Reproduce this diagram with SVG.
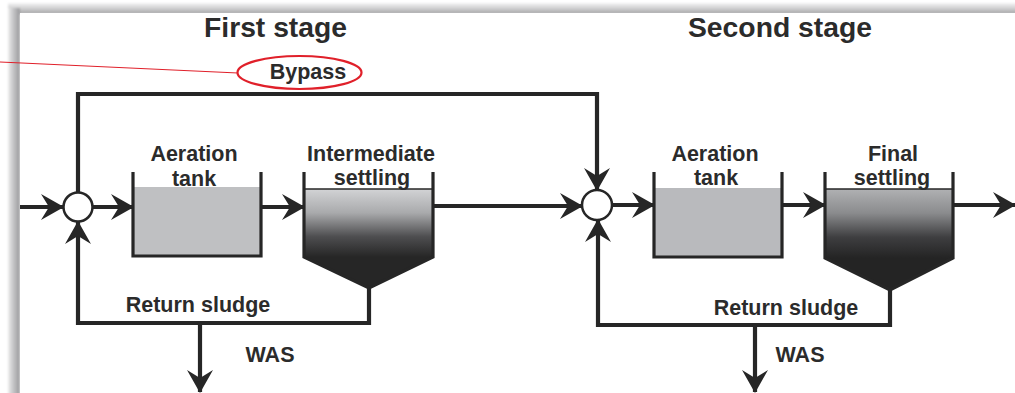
<svg xmlns="http://www.w3.org/2000/svg" width="1015" height="393" viewBox="0 0 1015 393">
  <style>
    .title { font-family: "Liberation Sans", Arial, sans-serif; font-weight: bold; font-size: 27px; fill: #2b2b2b; text-anchor: middle; }
    .label { font-family: "Liberation Sans", Arial, sans-serif; font-weight: bold; font-size: 21.5px; fill: #2b2b2b; text-anchor: middle; }
    .pipe { fill: none; stroke: #262626; stroke-width: 4.2; stroke-linejoin: miter; }
    .wall { fill: none; stroke: #262626; stroke-width: 3.2; }
    .junction { fill: #ffffff; stroke: #262626; stroke-width: 2.5; }
    .callout { fill: none; stroke: #e0202a; }
  </style>
  <defs>
    <marker id="arrow" markerUnits="userSpaceOnUse" markerWidth="30" markerHeight="30" refX="25" refY="15" orient="auto" overflow="visible">
      <path d="M26,15 L3,2 L11,15 L3,28 Z" fill="#262626"/>
    </marker>
    <linearGradient id="shadeLeft" x1="0" y1="0" x2="1" y2="0">
      <stop offset="0" stop-color="#ededed"/>
      <stop offset="0.45" stop-color="#c4c4c6"/>
      <stop offset="1" stop-color="#98989b"/>
    </linearGradient>
    <linearGradient id="shadeTop" x1="0" y1="0" x2="0" y2="1">
      <stop offset="0" stop-color="#f4f4f4"/>
      <stop offset="0.5" stop-color="#cfcfd0"/>
      <stop offset="1" stop-color="#a2a2a4"/>
    </linearGradient>
    <linearGradient id="settleA" x1="0" y1="189" x2="0" y2="257" gradientUnits="userSpaceOnUse">
      <stop offset="0" stop-color="#d2d3d5"/>
      <stop offset="0.35" stop-color="#a9aaac"/>
      <stop offset="0.7" stop-color="#4e4e50"/>
      <stop offset="1" stop-color="#262626"/>
    </linearGradient>
    <linearGradient id="settleB" x1="0" y1="189" x2="0" y2="258" gradientUnits="userSpaceOnUse">
      <stop offset="0" stop-color="#b0b1b3"/>
      <stop offset="0.35" stop-color="#8a8b8d"/>
      <stop offset="0.7" stop-color="#3e3e40"/>
      <stop offset="1" stop-color="#242424"/>
    </linearGradient>
    <filter id="soft" x="-5%" y="-5%" width="110%" height="110%">
      <feGaussianBlur stdDeviation="1.2"/>
    </filter>
  </defs>

  <!-- page backdrop with drop shadow -->
  <rect x="0" y="0" width="1015" height="393" fill="#ffffff"/>
  <g id="page-shadow" filter="url(#soft)">
    <rect x="8" y="3" width="1010" height="11" fill="url(#shadeTop)"/>
    <rect x="8" y="8" width="12" height="390" fill="url(#shadeLeft)"/>
  </g>
  <rect x="20" y="13" width="1000" height="385" fill="#ffffff"/>

  <!-- stage headings -->
  <text class="title" x="275.5" y="37" textLength="143" lengthAdjust="spacingAndGlyphs">First stage</text>
  <text class="title" x="780" y="37" textLength="184" lengthAdjust="spacingAndGlyphs">Second stage</text>

  <!-- connectors -->
  <g id="connectors">
    <path class="pipe" d="M20,207 H63" marker-end="url(#arrow)"/>
    <path class="pipe" d="M93,207 H133" marker-end="url(#arrow)"/>
    <path class="pipe" d="M261,207 H304" marker-end="url(#arrow)"/>
    <path class="pipe" d="M433,206 H582" marker-end="url(#arrow)"/>
    <path class="pipe" d="M612,205 H654" marker-end="url(#arrow)"/>
    <path class="pipe" d="M782,205 H825" marker-end="url(#arrow)"/>
    <path class="pipe" d="M953,205 H1015" marker-end="url(#arrow)"/>
    <!-- bypass line -->
    <path class="pipe" d="M78,192 V94 H597 V190" marker-end="url(#arrow)"/>
    <!-- return sludge, first stage -->
    <path class="pipe" d="M369,287 V323 H78 V222" marker-end="url(#arrow)"/>
    <path class="pipe" d="M200,323 V392" marker-end="url(#arrow)"/>
    <!-- return sludge, second stage -->
    <path class="pipe" d="M890,289 V325 H598 V220" marker-end="url(#arrow)"/>
    <path class="pipe" d="M755,325 V392" marker-end="url(#arrow)"/>
  </g>

  <!-- bypass callout -->
  <g id="bypass">
    <line class="callout" x1="0" y1="62" x2="238" y2="73" stroke-width="1.2"/>
    <ellipse class="callout" cx="299.5" cy="72.5" rx="62" ry="16.5" stroke-width="2.2"/>
    <text class="label" x="308" y="79">Bypass</text>
  </g>

  <!-- mixing junctions -->
  <g id="junction-1">
    <circle class="junction" cx="78" cy="207" r="14.5"/>
  </g>
  <g id="junction-2">
    <circle class="junction" cx="597" cy="205" r="15"/>
  </g>

  <!-- first stage aeration tank -->
  <g id="aeration-1">
    <rect x="133" y="187" width="128" height="69" fill="#bfc0c2"/>
    <path class="wall" d="M133,172 V256 H261 V172"/>
    <text class="label" x="194" y="161">Aeration</text>
    <text class="label" x="194" y="186">tank</text>
  </g>

  <!-- intermediate settling tank -->
  <g id="settling-1">
    <rect x="304" y="189" width="129" height="68" fill="url(#settleA)"/>
    <path d="M304,257 L369,288 L433,257 Z" fill="#262626"/>
    <line x1="304" y1="189" x2="433" y2="189" stroke="#262626" stroke-width="1.5"/>
    <path class="wall" d="M304,172 V257 L369,288 L433,257 V172"/>
    <text class="label" x="371" y="161">Intermediate</text>
    <text class="label" x="372" y="185">settling</text>
  </g>

  <!-- second stage aeration tank -->
  <g id="aeration-2">
    <rect x="654" y="188" width="128" height="69" fill="#b9babd"/>
    <path class="wall" d="M654,172 V257 H782 V172"/>
    <text class="label" x="715" y="161">Aeration</text>
    <text class="label" x="716" y="185">tank</text>
  </g>

  <!-- final settling tank -->
  <g id="settling-2">
    <rect x="825" y="189" width="128" height="69" fill="url(#settleB)"/>
    <path d="M825,258 L890,290 L953,258 Z" fill="#242424"/>
    <line x1="825" y1="189" x2="953" y2="189" stroke="#262626" stroke-width="1.5"/>
    <path class="wall" d="M825,172 V258 L890,290 L953,258 V172"/>
    <text class="label" x="893" y="161">Final</text>
    <text class="label" x="892" y="185">settling</text>
  </g>

  <!-- flow labels -->
  <g id="labels">
    <text class="label" x="198" y="312">Return sludge</text>
    <text class="label" x="270" y="362">WAS</text>
    <text class="label" x="786" y="315">Return sludge</text>
    <text class="label" x="800" y="362">WAS</text>
  </g>
</svg>
